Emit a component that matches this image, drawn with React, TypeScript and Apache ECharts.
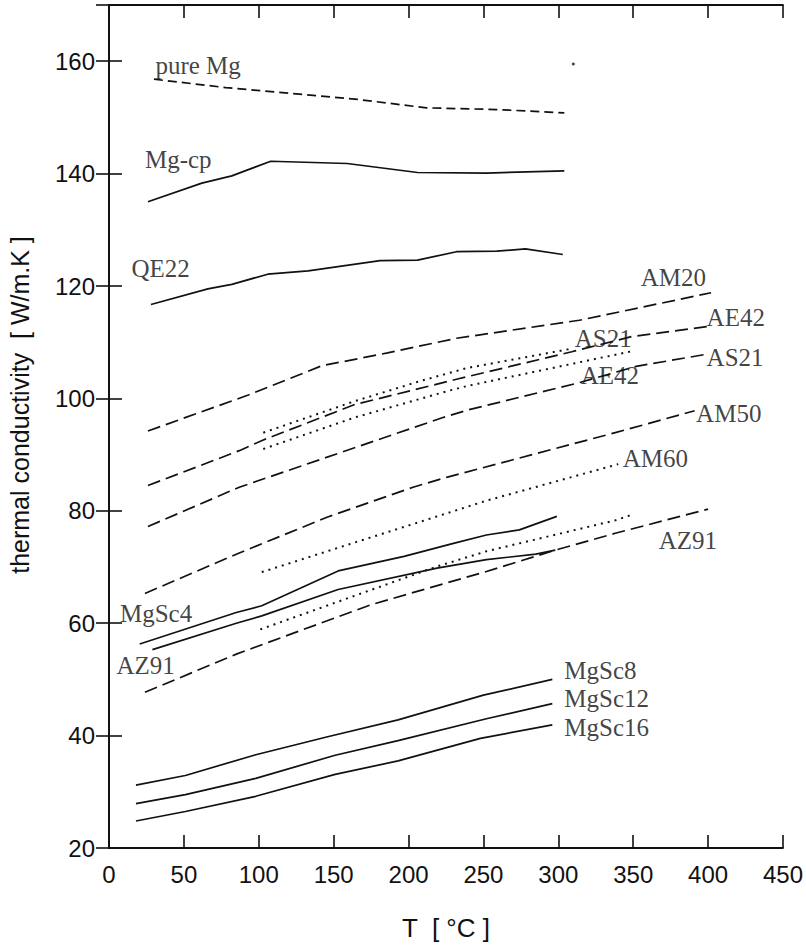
import React, { useEffect, useRef } from "react";
import * as echarts from "echarts";

// T [°C] vs thermal conductivity [W/m.K]
const pureMg = [[30, 156.8], [78, 155.3], [166, 153.2], [212, 151.7], [259, 151.4], [304, 150.8]];
const mgCp = [[26, 135.0], [62, 138.3], [82, 139.6], [108, 142.2], [159, 141.8], [206, 140.2], [252, 140.1], [304, 140.5]];
const qe22 = [[28, 116.7], [66, 119.5], [82, 120.3], [106, 122.1], [133, 122.7], [181, 124.5], [206, 124.6], [232, 126.1], [259, 126.2], [278, 126.6], [303, 125.6]];
const am20 = [[26, 94.2], [93, 100.6], [142, 105.8], [186, 108.1], [232, 110.7], [314, 113.9], [402, 118.8]];
const ae42 = [[26, 84.5], [87, 90.7], [103, 92.6], [164, 98.9], [232, 103.4], [309, 108.3], [349, 111.0], [400, 112.8]];
const as21 = [[26, 77.2], [87, 84.2], [223, 96.6], [239, 97.9], [314, 102.8], [352, 105.7], [400, 107.9]];
const as21Dotted = [[103, 93.9], [164, 99.5], [208, 103.1], [239, 105.4], [310, 108.9]];
const ae42Dotted = [[103, 91.0], [164, 96.6], [226, 101.3], [239, 102.2], [351, 108.5]];
const am50 = [[24, 65.3], [87, 72.5], [146, 78.9], [203, 84.2], [226, 86.0], [338, 93.9], [391, 97.8]];
const am60Dotted = [[102, 69.1], [219, 79.0], [252, 81.8], [340, 88.3]];
const mgSc4 = [[20.5, 56.3], [85, 61.9], [102, 63.1], [153, 69.3], [197, 71.9], [230, 74.2], [252, 75.7], [274, 76.6], [299, 79.0]];
const az91Solid = [[29, 55.3], [85, 60.0], [102, 61.3], [153, 66.0], [219, 69.8], [252, 71.3], [285, 72.3], [298, 73.0]];
const az91Dotted = [[101, 58.9], [219, 70.1], [252, 72.8], [338, 78.3], [349, 79.3]];
const az91 = [[24, 47.7], [85, 54.5], [175, 63.3], [252, 69.2], [298, 73.0], [338, 76.0], [400, 80.3]];
const mgSc8 = [[18, 31.2], [51, 32.9], [98, 36.6], [146, 39.8], [193, 42.8], [250, 47.2], [296, 50.0]];
const mgSc12 = [[18, 27.9], [51, 29.5], [98, 32.4], [151, 36.5], [193, 39.1], [252, 43.0], [296, 45.7]];
const mgSc16 = [[18, 24.8], [51, 26.5], [98, 29.2], [151, 33.1], [193, 35.5], [248, 39.5], [296, 41.9]];
const strayDot = [[310, 159.5]];

// curve labels: text, T, conductivity (left edge / vertical middle of the text)
const curveLabels: [string, number, number][] = [
  ["pure Mg", 31, 159.2],
  ["Mg-cp", 24, 142.5],
  ["QE22", 15, 123.2],
  ["AM20", 355, 121.5],
  ["AE42", 399, 114.4],
  ["AS21", 311, 110.7],
  ["AS21", 399, 107.3],
  ["AE42", 315, 104.1],
  ["AM50", 392, 97.3],
  ["AM60", 343, 89.3],
  ["AZ91", 367, 74.7],
  ["MgSc4", 7.3, 61.7],
  ["AZ91", 5, 52.5],
  ["MgSc8", 304, 51.6],
  ["MgSc12", 304, 46.6],
  ["MgSc16", 304, 41.5],
];

const xMin = 0, xMax = 450, xStep = 50;
const yMin = 20, yMax = 170, yStep = 20;
const yTitle = "thermal conductivity  [ W/m.K ]";
const xTitle = "T  [ °C ]";

const INK = "#111";
const SANS = "'Liberation Sans', Arial, sans-serif";
const SERIF = "'Liberation Serif', 'Times New Roman', serif";

const DASH_LONG = [13, 6];
const DASH_SHORT = [9, 5];
const DOT = [2, 5];

function line(name: string, data: number[][], type: any, width = 1.7) {
  return {
    type: "line",
    name,
    data,
    symbol: "none",
    showSymbol: false,
    silent: true,
    lineStyle: { color: INK, width, type },
  };
}

export default function App() {
  const ref = useRef<HTMLDivElement>(null);
  useEffect(() => {
    document.body.style.margin = "0";
    const chart = echarts.init(ref.current!, null, { renderer: "svg" });
    const axisCommon = {
      axisLine: { show: true, lineStyle: { color: INK, width: 1.8 } },
      axisTick: { show: true, inside: true, length: 13, lineStyle: { color: INK, width: 1.6 } },
      splitLine: { show: false },
    };
    chart.setOption({
      animation: false,
      backgroundColor: "#fff",
      grid: { left: 109, right: 17, top: 5, bottom: 92 },
      graphic: [
        {
          type: "text",
          x: 20,
          y: 405,
          rotation: Math.PI / 2,
          style: {
            text: yTitle,
            fill: INK,
            fontSize: 25,
            fontFamily: SANS,
            align: "center",
            verticalAlign: "middle",
          },
        },
      ],
      xAxis: [
        {
          type: "value", min: xMin, max: xMax, interval: xStep, position: "bottom",
          ...axisCommon,
          axisLabel: { color: INK, fontSize: 24, fontFamily: SANS, margin: 14 },
          name: xTitle, nameLocation: "middle", nameGap: 67,
          nameTextStyle: { color: INK, fontSize: 26, fontFamily: SANS },
        },
        {
          type: "value", min: xMin, max: xMax, interval: xStep, position: "top",
          ...axisCommon, axisLabel: { show: false },
        },
      ],
      yAxis: [
        {
          type: "value", min: yMin, max: yMax, interval: yStep, position: "left",
          ...axisCommon,
          axisLabel: {
            color: INK, fontSize: 24, fontFamily: SANS, margin: 14,
            formatter: (v: number) => (v > 160 ? "" : String(v)),
          },
        },
        {
          type: "value", min: yMin, max: yMax, interval: yStep, position: "right",
          ...axisCommon, axisLabel: { show: false },
        },
      ],
      series: [
        line("pure Mg", pureMg, DASH_SHORT),
        line("Mg-cp", mgCp, "solid"),
        line("QE22", qe22, "solid"),
        line("AM20", am20, DASH_LONG),
        line("AE42", ae42, DASH_LONG),
        line("AS21", as21, DASH_LONG),
        line("AS21 (dotted)", as21Dotted, DOT, 2),
        line("AE42 (dotted)", ae42Dotted, DOT, 2),
        line("AM50", am50, DASH_LONG),
        line("AM60", am60Dotted, DOT, 2),
        line("MgSc4", mgSc4, "solid"),
        line("AZ91 (solid)", az91Solid, "solid"),
        line("AZ91 (dotted)", az91Dotted, DOT, 2),
        line("AZ91", az91, DASH_LONG),
        line("MgSc8", mgSc8, "solid"),
        line("MgSc12", mgSc12, "solid"),
        line("MgSc16", mgSc16, "solid"),
        {
          type: "scatter", data: strayDot, symbolSize: 3, silent: true,
          itemStyle: { color: INK },
        },
        {
          type: "scatter",
          silent: true,
          symbolSize: 0,
          data: curveLabels.map(([t, x, y]) => ({ name: t, value: [x, y] })),
          label: {
            show: true, position: "right", distance: 0,
            formatter: (p: any) => p.name,
            color: INK, fontSize: 25, fontFamily: SERIF,
          },
          z: 5,
        },
      ],
    });
    return () => chart.dispose();
  }, []);
  return <div ref={ref} style={{ width: 806, height: 946 }} />;
}
